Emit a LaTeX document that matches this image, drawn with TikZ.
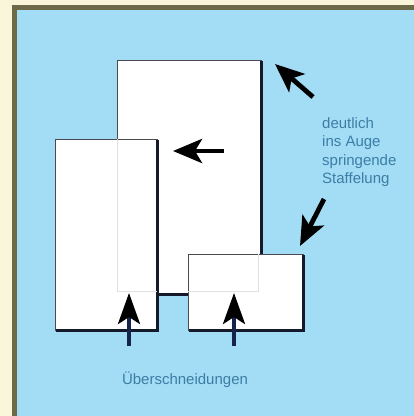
\documentclass[tikz,border=0pt]{standalone}
\usepackage{fontspec}
\setmainfont{Liberation Sans}
\usetikzlibrary{arrows.meta}
\definecolor{cream}{HTML}{F8F7D9}
\definecolor{olive}{HTML}{6D6A48}
\definecolor{sky}{HTML}{A3DDF5}
\definecolor{labelblue}{HTML}{3C7DA6}
\definecolor{edge}{HTML}{4A4A50}
\definecolor{shadow}{HTML}{151A2A}
\definecolor{navy}{HTML}{17244A}
\tikzset{
  sheet/.style={draw=edge, line width=0.7pt, fill=white, inner sep=0pt, outer sep=0pt, anchor=north west},
  hiddenedge/.style={draw=black!12, line width=0.8pt},
  shadowline/.style={draw=shadow, line width=3pt, line cap=rect},
  pointer/.style={line width=4.8pt, draw=black, -{Stealth[length=29pt, width=24pt, inset=7pt]}},
  uppointer/.style={line width=4pt, draw=navy, -{Stealth[length=31pt, width=22pt, inset=7pt, color=black]}},
  note/.style={text=labelblue, font=\fontsize{15}{18.5}\selectfont, inner sep=0pt},
}
\begin{document}
\begin{tikzpicture}[x=1pt, y=-1pt]
\useasboundingbox (0,0) rectangle (414,416);
\fill[cream] (0,0) rectangle (414,416);
\fill[olive] (12,5) rectangle (414,416);
\fill[sky] (17,10) rectangle (414,416);

% big sheet (behind)
\node[sheet, minimum width=144pt, minimum height=234pt] (big) at (117,60) {};
\draw[shadowline] ([yshift=-2pt]big.north east) -- (big.south east) -- ([xshift=2pt]big.south west);

% left sheet
\node[sheet, minimum width=102pt, minimum height=191pt] (left) at (55,139) {};
\draw[shadowline] ([yshift=-2pt]left.north east) -- (left.south east) -- ([xshift=2pt]left.south west);

% small sheet
\node[sheet, minimum width=115pt, minimum height=76pt] (small) at (188,254) {};
\draw[shadowline] ([yshift=-2pt]small.north east) -- (small.south east) -- ([xshift=2pt]small.south west);

% faint outline of the big sheet seen through the front sheets
\draw[hiddenedge] (big.west |- left.north) -- ([yshift=3pt]big.south west) -- ([yshift=3pt]big.south west -| left.east);
\draw[hiddenedge] ([yshift=3pt]big.south west -| small.west) -- ([xshift=-3pt,yshift=3pt]big.south east) -- ([xshift=-3pt]big.east |- small.north);

% arrows
\coordinate (a1s) at (313,97);  \coordinate (a1e) at (275,64);
\coordinate (a2s) at (224,151); \coordinate (a2e) at (173,151);
\coordinate (a3s) at (324,199); \coordinate (a3e) at (300,246);
\coordinate (u1s) at (129,346); \coordinate (u1e) at (129,293);
\coordinate (u2s) at (234,346); \coordinate (u2e) at (234,293);
\draw[pointer] (a1s) -- (a1e);
\draw[pointer] (a2s) -- (a2e);
\draw[pointer] (a3s) -- (a3e);
\draw[uppointer] (u1s) -- (u1e);
\draw[uppointer] (u2s) -- (u2e);

% texts
\node[note, anchor=north west, align=left] (staff) at (322,117) {deutlich\\ins Auge\\springende\\Staffelung};
\node[note, anchor=center] (ueber) at (185,380) {Überschneidungen};
\end{tikzpicture}
\end{document}
